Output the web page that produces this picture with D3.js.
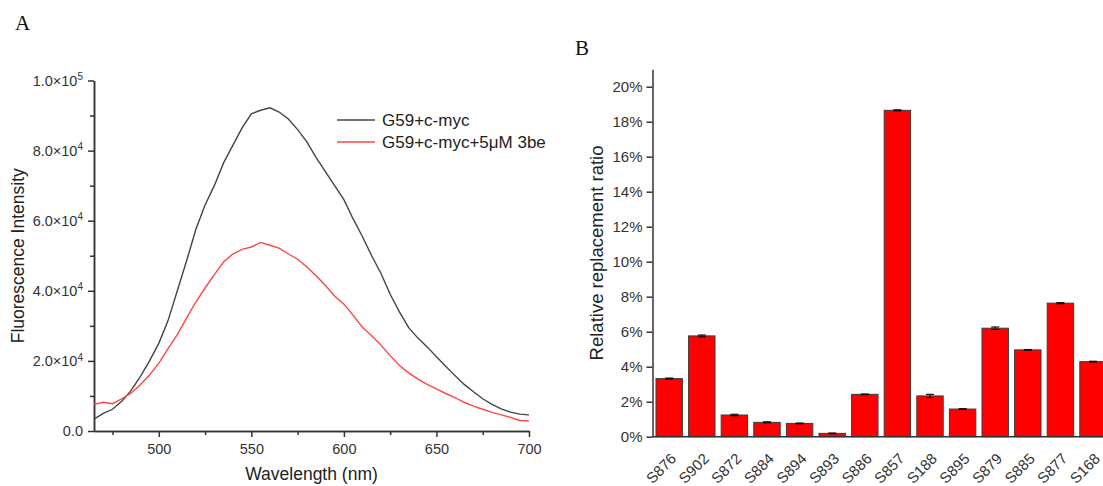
<!DOCTYPE html>
<html>
<head>
<meta charset="utf-8">
<script src="https://cdn.jsdelivr.net/npm/d3@7"></script>
<style>
body { margin: 0; background: #fff; }
svg { display: block; font-family: Arial, "Liberation Sans", sans-serif; }
.axis path, .axis line { stroke: #333; stroke-width: 1.5; }
.axis text { fill: #333; }
</style>
</head>
<body>
<svg width="1103" height="486"></svg>
<script>
// Panel A: emission spectra (every 5 nm)
var wavelengths = [465, 470, 475, 480, 485, 490, 495, 500, 505, 510, 515, 520, 525, 530, 535, 540,
    545, 550, 555, 560, 565, 570, 575, 580, 585, 590, 595, 600, 605, 610, 615, 620, 625, 630,
    635, 640, 645, 650, 655, 660, 665, 670, 675, 680, 685, 690, 695, 700];
var controlIntensity = [3400, 5000, 6200, 8500, 11500, 15500, 20000, 25000, 31500, 40000, 48500,
    57500, 64500, 70000, 76500, 81500, 86500, 90500, 91500, 92200, 91000, 89000, 86000, 82500,
    78000, 74000, 70000, 66000, 60500, 55500, 50000, 45000, 39000, 34000, 29500, 26500, 24000,
    21200, 18500, 15800, 13300, 11200, 9200, 7600, 6300, 5400, 4800, 4600];
var treatedIntensity = [7600, 8200, 7800, 9200, 10800, 13200, 16000, 19300, 23500, 27500, 32200,
    36800, 40800, 44600, 48200, 50500, 51800, 52500, 53800, 53000, 52200, 50500, 49000, 46800,
    44300, 41500, 38500, 36200, 33000, 29600, 27200, 24500, 21500, 18700, 16600, 14800, 13300,
    12000, 10700, 9500, 8200, 7100, 6200, 5300, 4600, 3900, 3000, 2900];
var seriesNames = ['G59+c-myc', 'G59+c-myc+5\u03bcM 3be'];
var seriesColors = ['#444', '#ff4545'];
var xTicksA = [500, 550, 600, 650, 700];
var xMinorA = [475, 525, 575, 625, 675];
var yTicksA = [0, 20000, 40000, 60000, 80000, 100000];
var yMinorA = [10000, 30000, 50000, 70000, 90000];

// Panel B: relative replacement ratio (%)
var samples = ['S876', 'S902', 'S872', 'S884', 'S894', 'S893', 'S886', 'S857', 'S188', 'S895',
    'S879', 'S885', 'S877', 'S168'];
var ratios = [3.32, 5.76, 1.24, 0.82, 0.76, 0.19, 2.42, 18.65, 2.33, 1.58, 6.20, 4.96, 7.63, 4.29];
var ratioErrors = [0.03, 0.05, 0.04, 0.03, 0.02, 0.02, 0.02, 0.03, 0.09, 0.02, 0.07, 0.02, 0.03, 0.02];
var yTicksB = [0, 2, 4, 6, 8, 10, 12, 14, 16, 18, 20];

var svg = d3.select('svg');

// ---------- Panel A ----------
var xA = d3.scaleLinear().domain([465, 700]).range([94, 529]);
var yA = d3.scaleLinear().domain([0, 100000]).range([431, 80.5]);

var gA = svg.append('g');

gA.append('g')
    .attr('class', 'axis')
    .attr('transform', 'translate(0,' + yA(0) + ')')
    .call(d3.axisBottom(xA).tickValues(xMinorA).tickSize(4).tickSizeOuter(0).tickFormat(''));
gA.append('g')
    .attr('class', 'axis')
    .attr('transform', 'translate(0,' + yA(0) + ')')
    .call(d3.axisBottom(xA).tickValues(xTicksA).tickSize(6).tickSizeOuter(0).tickPadding(7))
    .selectAll('text').attr('font-size', 14.5);

gA.append('g')
    .attr('class', 'axis')
    .attr('transform', 'translate(' + xA(465) + ',0)')
    .call(d3.axisLeft(yA).tickValues(yMinorA).tickSize(4).tickSizeOuter(0).tickFormat(''));
var yAxisA = gA.append('g')
    .attr('class', 'axis')
    .attr('transform', 'translate(' + xA(465) + ',0)')
    .call(d3.axisLeft(yA).tickValues(yTicksA).tickSize(6).tickSizeOuter(0).tickPadding(5).tickFormat(''));

// scientific labels with superscript exponent
yAxisA.selectAll('.tick text').each(function(d) {
    var t = d3.select(this).attr('font-size', 14.5);
    if (d === 0) { t.text('0.0'); return; }
    var exp = Math.floor(Math.log10(d));
    var mant = (d / Math.pow(10, exp)).toFixed(1);
    t.append('tspan').text(mant + '\u00d710');
    t.append('tspan').attr('font-size', 10).attr('dy', '-0.55em').text(exp);
});

var lineA = d3.line()
    .x(function(d, i) { return xA(wavelengths[i]); })
    .y(function(d) { return yA(d); });

[controlIntensity, treatedIntensity].forEach(function(series, k) {
    gA.append('path')
        .datum(series)
        .attr('d', lineA)
        .attr('fill', 'none')
        .attr('stroke', seriesColors[k])
        .attr('stroke-width', 1.4);
});

// legend
var legendA = gA.append('g').attr('transform', 'translate(337,120)');
seriesNames.forEach(function(name, k) {
    var row = legendA.append('g').attr('transform', 'translate(0,' + k * 22 + ')');
    row.append('line').attr('x1', 0).attr('x2', 38)
        .attr('stroke', seriesColors[k]).attr('stroke-width', 1.6);
    row.append('text').attr('x', 45).attr('dy', '0.36em')
        .attr('font-size', 17).attr('fill', '#222').text(name);
});

gA.append('text')
    .attr('x', (xA.range()[0] + xA.range()[1]) / 2).attr('y', 480)
    .attr('text-anchor', 'middle').attr('font-size', 17.5).attr('fill', '#222')
    .text('Wavelength (nm)');
gA.append('text')
    .attr('transform', 'translate(24,' + yA(50000) + ')rotate(-90)')
    .attr('text-anchor', 'middle').attr('font-size', 17.5).attr('fill', '#222')
    .text('Fluorescence Intensity');

svg.append('text').attr('x', 15).attr('y', 30)
    .attr('font-family', '"Liberation Serif", "DejaVu Serif", serif')
    .attr('font-size', 21).attr('fill', '#111').text('A');

// ---------- Panel B ----------
var xB = d3.scaleBand().domain(samples).range([652.5, 1109.7])
    .paddingInner(0.19).paddingOuter(0.107);
var yB = d3.scaleLinear().domain([0, 21]).range([436.7, 69.2]);

var gB = svg.append('g');

gB.selectAll('.bar')
    .data(samples)
    .enter().append('rect')
    .attr('class', 'bar')
    .attr('x', function(d) { return xB(d); })
    .attr('y', function(d, i) { return yB(ratios[i]); })
    .attr('width', xB.bandwidth())
    .attr('height', function(d, i) { return yB(0) - yB(ratios[i]); })
    .attr('fill', '#ff0000')
    .attr('stroke', '#3a3a3a')
    .attr('stroke-width', 1);

// error bars
var errG = gB.selectAll('.err')
    .data(samples)
    .enter().append('g')
    .attr('class', 'err')
    .attr('stroke', '#111')
    .attr('stroke-width', 1.2);
errG.append('line')
    .attr('x1', function(d) { return xB(d) + xB.bandwidth() / 2; })
    .attr('x2', function(d) { return xB(d) + xB.bandwidth() / 2; })
    .attr('y1', function(d, i) { return yB(ratios[i] - ratioErrors[i]); })
    .attr('y2', function(d, i) { return yB(ratios[i] + ratioErrors[i]); });
[1, -1].forEach(function(s) {
    errG.append('line')
        .attr('x1', function(d) { return xB(d) + xB.bandwidth() / 2 - 4; })
        .attr('x2', function(d) { return xB(d) + xB.bandwidth() / 2 + 4; })
        .attr('y1', function(d, i) { return yB(ratios[i] + s * ratioErrors[i]); })
        .attr('y2', function(d, i) { return yB(ratios[i] + s * ratioErrors[i]); });
});

// y axis
gB.append('g')
    .attr('class', 'axis')
    .attr('transform', 'translate(652.5,0)')
    .call(d3.axisLeft(yB).tickValues(yTicksB).tickSize(6).tickSizeOuter(0).tickPadding(4)
        .tickFormat(function(d) { return d + '%'; }))
    .selectAll('text').attr('font-size', 15);

// x axis: line only, rotated labels
var xAxisB = gB.append('g')
    .attr('class', 'axis')
    .attr('transform', 'translate(0,' + yB(0) + ')')
    .call(d3.axisBottom(xB).tickSize(0).tickSizeOuter(0).tickPadding(0));
xAxisB.select('.domain').attr('d', 'M652.5,0H1103');
xAxisB.selectAll('.tick text')
    .attr('font-size', 15)
    .attr('text-anchor', 'end')
    .attr('dy', 0)
    .attr('transform', 'translate(8,23)rotate(-45)');

gB.append('text')
    .attr('transform', 'translate(603,' + yB(10.5) + ')rotate(-90)')
    .attr('text-anchor', 'middle').attr('font-size', 18.5).attr('fill', '#222')
    .text('Relative replacement ratio');

svg.append('text').attr('x', 575).attr('y', 55)
    .attr('font-family', '"Liberation Serif", "DejaVu Serif", serif')
    .attr('font-size', 21).attr('fill', '#111').text('B');
</script>
</body>
</html>
